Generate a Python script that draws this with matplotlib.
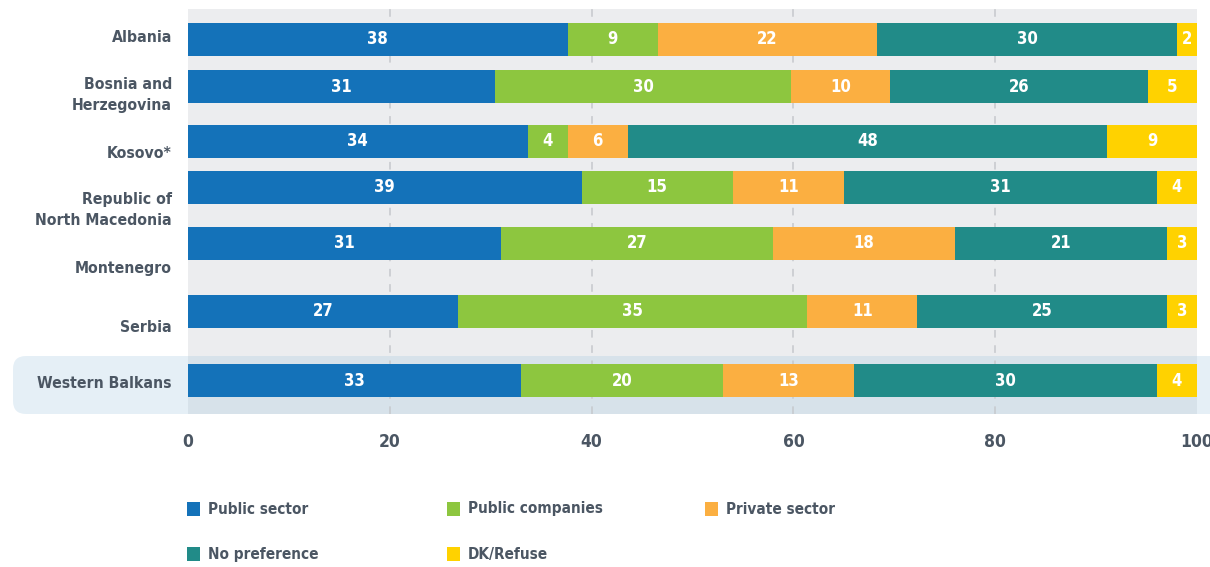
import matplotlib.pyplot as plt
import matplotlib.transforms as mtransforms
from matplotlib.patches import FancyBboxPatch, Rectangle
import numpy as np

# survey shares (%), one value per country row
countries = ['Albania', 'Bosnia and\nHerzegovina', 'Kosovo*', 'Republic of\nNorth Macedonia',
             'Montenegro', 'Serbia', 'Western Balkans']
public_sector = [38, 31, 34, 39, 31, 27, 33]
public_companies = [9, 30, 4, 15, 27, 35, 20]
private_sector = [22, 10, 6, 11, 18, 11, 13]
no_preference = [30, 26, 48, 31, 21, 25, 30]
dk_refuse = [2, 5, 9, 4, 3, 3, 4]

series_names = ['Public sector', 'Public companies', 'Private sector', 'No preference', 'DK/Refuse']
colors = ['#1472b9', '#8dc63f', '#fbaf41', '#218b88', '#ffd200']

# layout (image pixel rows, y grows downwards)
bar_y = [39.5, 86.5, 141.5, 187.5, 243.5, 311.5, 380.5]
label_y = [38, 95, 153, 210, 268, 328, 384]
bar_h = 33

# condensed DejaVu is the closest thing to the narrow bold face of the original
plt.rcParams['font.family'] = ['DejaVu Sans']
plt.rcParams['font.stretch'] = 'condensed'
txt_color = '#4b5663'

W, H = 1210, 567
fig = plt.figure(figsize=(W / 100, H / 100), dpi=100)
ax = fig.add_axes([188 / W, (H - 414) / H, (1197 - 188) / W, (414 - 9) / H])
ax.set_facecolor('#ecedef')
ax.set_xlim(0, 100)
ax.set_ylim(414, 9)
for s in ax.spines.values():
    s.set_visible(False)

# highlight box behind Western Balkans row
hl = FancyBboxPatch((13, H - 414), 1210, 58, boxstyle='round,pad=0,rounding_size=13',
                    transform=mtransforms.IdentityTransform(), facecolor='#a0c6e0', alpha=0.27,
                    edgecolor='none', clip_on=False, zorder=0.5)
ax.add_artist(hl)

for x in [20, 40, 60, 80]:
    ax.axvline(x, color='#c6c8cc', lw=1.1, ls=(0, (5, 5)), zorder=1)

data = np.array([public_sector, public_companies, private_sector, no_preference, dk_refuse], dtype=float)
widths = data / data.sum(axis=0) * 100
left = np.zeros(len(countries))
for i in range(len(series_names)):
    bars = ax.barh(bar_y, widths[i], height=bar_h, left=left, color=colors[i], zorder=2)
    for j, b in enumerate(bars):
        cx = left[j] + widths[i][j] / 2
        ax.text(cx, bar_y[j], str(int(data[i][j])), ha='center', va='center', color='white',
                fontsize=12, fontweight='bold', zorder=3)
    left += widths[i]

for name, y in zip(countries, label_y):
    ax.text(-1.6, y, name, ha='right', va='center', multialignment='right', color=txt_color,
            fontsize=11.3, fontweight='bold', linespacing=1.55, clip_on=False)

ax.set_yticks([])
ax.set_xticks([0, 20, 40, 60, 80, 100])
ax.set_xticklabels(['0', '20', '40', '60', '80', '100'], fontsize=12.5, fontweight='bold', color=txt_color)
ax.tick_params(axis='x', length=0, pad=14)

# legend, drawn by hand to keep the three-column grid
leg_x = [187, 447, 705, 187, 447]
leg_y = [509, 509, 509, 554, 554]
for name, c, x, y in zip(series_names, colors, leg_x, leg_y):
    fig.add_artist(Rectangle((x, H - y - 7), 13, 14, facecolor=c, edgecolor='none',
                             transform=mtransforms.IdentityTransform()))
    fig.text((x + 21) / W, (H - y) / H, name, ha='left', va='center', color=txt_color,
             fontsize=11, fontweight='bold')

fig.savefig('out.png', dpi=100)
